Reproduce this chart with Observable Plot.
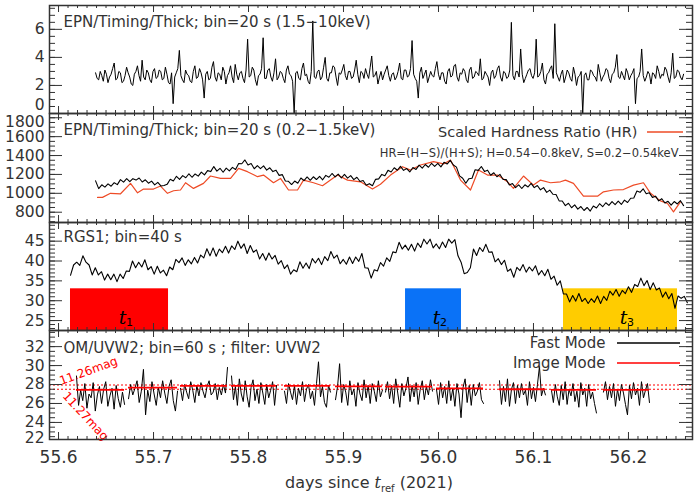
<!DOCTYPE html>
<html><head><meta charset="utf-8">
<script src="https://cdn.jsdelivr.net/npm/d3@7"></script>
<script src="https://cdn.jsdelivr.net/npm/@observablehq/plot@0.6"></script>
<style>
body{margin:0;background:#fff;}
#chart{position:relative;width:700px;height:500px;}
#chart > div{position:absolute;left:0;}
svg{overflow:visible;}
</style></head><body><div id="chart"></div>
<script>
// ---------------- DATA ----------------
// Panel 1: EPN/Timing/Thick 1.5-10 keV (regular bins between start and end)
const hardStart = 55.639, hardEnd = 56.258;
const hardRate = [
2.9,2.5,2.4,3.0,2.7,2.3,3.1,2.8,2.2,2.6,
2.8,3.2,3.6,2.4,2.5,3.0,2.9,2.2,2.3,2.7,
3.3,2.9,2.6,2.1,2.0,2.8,3.0,3.4,2.7,2.3,
3.8,2.6,2.4,3.1,2.9,2.4,2.2,3.0,3.2,2.5,
2.6,3.1,3.0,2.4,2.5,3.3,2.8,2.2,2.1,2.9,
0.7,2.6,2.9,3.2,4.5,2.7,2.4,2.2,3.1,2.8,
2.7,2.3,2.2,3.0,3.4,2.5,2.6,3.2,2.9,2.4,
1.1,2.8,3.0,2.4,2.5,3.3,3.7,2.6,2.3,2.9,
2.8,2.4,3.3,3.0,2.1,2.7,2.9,3.4,2.6,2.2,
3.5,2.8,2.4,2.9,3.0,2.5,2.2,3.1,5.3,2.6,
2.7,3.3,3.1,2.4,2.0,2.7,2.8,3.2,5.4,2.5,
2.5,3.1,3.2,2.6,2.3,2.9,3.9,2.4,2.6,3.0,
2.9,2.5,2.2,3.1,3.4,2.8,2.7,2.3,0.0,2.9,
3.0,2.5,2.4,3.2,3.6,2.7,2.8,2.3,2.1,3.0,
6.6,2.6,2.5,3.0,3.1,2.4,2.6,3.3,4.0,2.5,
2.3,2.9,2.9,3.4,3.3,2.6,2.0,2.9,2.8,3.1,
3.5,2.7,2.4,3.0,3.0,2.5,2.6,3.1,3.8,2.8,
2.2,3.0,2.9,2.5,3.2,2.8,2.5,3.3,4.1,2.6,
2.7,3.0,2.1,2.6,3.0,2.4,2.8,3.1,3.4,2.7,
2.3,2.8,2.9,2.4,2.6,3.0,3.6,2.5,2.4,3.1,
3.1,2.6,2.7,3.2,5.2,2.8,2.5,2.3,1.1,2.9,
3.3,2.5,2.8,3.1,2.2,2.6,3.0,2.7,2.6,3.2,
3.7,2.8,2.4,2.9,2.9,2.3,2.1,3.0,3.2,2.6,
2.7,3.4,3.5,2.6,2.3,2.9,2.8,3.2,3.0,2.4,
2.2,3.1,3.3,2.5,2.6,3.0,2.9,2.7,3.9,2.4,
2.5,3.0,2.8,2.6,2.0,2.9,3.1,2.5,2.7,3.2,
3.4,2.6,2.3,3.0,2.9,2.5,2.6,3.1,6.5,2.7,
2.4,3.0,3.0,2.6,4.6,2.8,2.2,2.5,2.8,3.1,
3.2,2.7,2.5,2.9,5.3,2.6,2.7,3.0,3.6,2.4,
2.1,2.8,2.9,3.2,3.4,2.5,6.4,2.9,2.6,2.3,
2.8,3.1,2.2,2.6,3.1,2.9,2.5,2.3,3.3,2.8,
2.0,2.6,2.7,3.0,0.0,2.7,2.9,2.4,2.4,3.1,
3.0,2.7,2.6,2.3,3.5,2.9,2.3,2.6,2.8,3.2,
3.1,2.5,2.2,2.8,2.9,3.3,4.2,2.6,2.5,3.0,
2.7,2.4,3.2,2.9,2.4,2.7,2.9,3.2,0.7,2.5,
2.6,3.0,4.6,2.7,2.3,2.6,3.0,2.8,2.1,2.9,
2.8,2.5,3.4,3.0,2.5,2.8,2.7,3.3,3.1,2.6,
2.2,2.9,4.3,2.5,2.6,3.1,3.0,2.6,2.4,2.8];

// Panel 2: EPN 0.2-1.5 keV (regular bins) + scaled hardness ratio
const softStart = 55.639, softEnd = 56.258;
const softRate = [
1132,1050,1090,1065,1100,1075,1112,1092,1145,1118,
1155,1123,1155,1140,1162,1120,1143,1107,1129,1090,
1116,1078,1082,1095,1148,1130,1180,1148,1187,1165,
1207,1170,1205,1182,1225,1195,1240,1230,1283,1235,
1265,1223,1267,1238,1275,1252,1315,1313,1353,1300,
1315,1260,1294,1262,1290,1246,1270,1230,1245,1190,
1198,1130,1127,1093,1130,1107,1162,1134,1173,1138,
1175,1146,1180,1143,1190,1170,1210,1174,1203,1162,
1200,1161,1187,1145,1170,1125,1135,1085,1102,1080,
1148,1153,1200,1185,1243,1226,1271,1244,1286,1243,
1262,1226,1273,1253,1298,1266,1305,1276,1318,1285,
1318,1280,1328,1310,1349,1300,1277,1185,1160,1107,
1155,1160,1250,1243,1284,1232,1245,1191,1218,1175,
1200,1147,1145,1088,1103,1060,1090,1051,1090,1067,
1105,1060,1083,1037,1060,1010,1034,990,987,920,
918,870,895,847,877,832,860,818,850,812,
865,845,890,858,900,872,913,881,918,882,
928,903,948,950,1025,1010,1048,995,1005,957,
970,920,943,897,915,874,913,887,922,870];
const hrTime = [55.6411,55.6463,55.6547,55.6653,55.6758,55.6832,55.6895,55.7000,55.7074,55.7147,
55.7211,55.7284,55.7337,55.7421,55.7526,55.7600,55.7705,55.7811,55.7895,55.7989,
55.8095,55.8158,55.8263,55.8337,55.8421,55.8516,55.8579,55.8684,55.8779,55.8863,
55.8937,55.9042,55.9179,55.9305,55.9389,55.9495,55.9621,55.9705,55.9811,55.9947,
56.0053,56.0126,56.0232,56.0337,56.0421,56.0516,56.0621,56.0726,56.0789,56.0895,
56.1000,56.1074,56.1179,56.1284,56.1337,56.1421,56.1526,56.1674,56.1737,56.1842,
56.1947,56.2053,56.2158,56.2232,56.2337,56.2411,56.2474,56.2547];
const hrScaled = [957,957,1000,995,1105,1005,1045,1045,1077,1000,
1027,1035,1112,1052,1105,1183,1158,1158,1264,1229,
1176,1193,1112,1158,1035,1035,1140,1112,1080,1140,
1193,1140,1122,1045,1096,1193,1282,1246,1300,1335,
1311,1353,1140,1035,1246,1193,1193,1122,1052,1183,
1087,1140,1112,1122,1140,1105,970,970,1016,1035,
1040,1087,1112,1000,920,892,803,910];

// Panel 3: RGS1, 40 s bins (regular bins)
const rgsStart = 55.6126, rgsEnd = 56.262;
const rgsRate = [
36.4,39.0,39.7,38.9,41.3,39.7,39.0,36.5,38.3,36.5,
37.3,35.2,36.7,35.3,36.7,34.8,36.7,35.6,37.5,37.4,
40.0,38.3,39.7,38.5,40.3,37.8,38.6,36.7,38.7,37.0,
37.7,36.3,38.5,37.8,40.4,39.6,40.8,38.9,40.3,39.3,
40.9,39.5,41.5,40.8,43.1,41.3,43.3,41.2,43.0,42.1,
43.7,42.0,43.8,42.9,45.0,43.2,44.3,41.9,43.9,42.2,
42.8,40.5,41.9,40.2,42.0,40.5,41.4,39.2,40.1,38.1,
39.0,36.7,37.8,37.3,39.8,38.2,39.5,38.1,40.6,39.5,
40.7,39.1,41.1,40.1,42.4,40.7,41.5,39.3,40.4,39.2,
41.0,39.4,41.0,39.9,41.9,38.3,38.2,35.7,37.8,37.5,
39.6,38.7,40.8,39.9,42.3,42.1,44.7,43.0,44.0,42.7,
44.2,42.5,44.5,43.4,45.5,44.3,45.5,43.3,44.3,43.1,
44.8,43.4,45.5,44.5,45.4,41.3,39.7,36.8,37.1,38.3,
43.0,41.4,43.4,42.4,44.2,42.2,42.3,39.8,40.6,39.1,
40.2,37.4,38.0,35.9,38.4,37.6,39.1,37.2,38.5,37.5,
38.8,36.5,37.6,36.3,37.9,35.4,36.2,33.9,35.0,31.7,
31.7,29.7,31.3,29.9,31.8,29.8,30.6,29.3,30.5,29.6,
31.2,29.3,31.1,30.1,32.4,31.4,32.8,31.1,32.6,31.8,
33.5,32.1,34.1,33.6,35.7,33.8,35.1,32.8,34.5,32.7,
33.2,30.9,32.2,30.5,31.8,28.1,31.2,30.6,31.1,29.5];
const periodName = ["1","2","3"];
const periodStart = [55.6126,55.9653,56.1316];
const periodEnd = [55.7158,56.0242,56.2516];
const periodTop = [33,33,33];

// Panel 4: OM/UVW2 fast mode (11 exposures, 24 values each) + image mode
const omSegStart = [55.6189,55.6737,55.7284,55.7821,55.8379,55.8916,55.9442,55.9979,56.0642,56.1189,56.1737];
const omSegEnd   = [55.6695,55.7253,55.7779,55.8295,55.8863,55.9410,55.9937,56.0474,56.1126,56.1663,56.2221];
const omPerSeg = 24;
const omRate = [
28.9,25.8,27.4,26.3,28.1,25.5,27.0,26.6,28.2,25.2,26.9,27.8,26.0,27.5,28.3,25.7,26.8,27.6,25.4,27.9,26.5,25.6,27.2,25.9,
26.5,28.0,26.9,27.6,28.4,26.1,27.3,29.6,24.8,27.4,26.2,28.3,27.0,25.8,27.7,26.6,28.4,27.1,26.0,27.8,28.5,26.3,25.2,27.3,
27.6,26.3,28.0,27.2,26.5,28.3,27.4,26.1,27.9,26.8,28.2,27.3,26.6,27.8,28.4,26.9,27.2,28.1,26.4,27.7,26.9,28.0,27.1,29.8,
28.9,26.4,27.8,25.8,28.6,27.0,26.2,28.4,26.7,25.6,27.7,28.5,26.3,27.5,26.0,28.2,27.1,25.9,28.0,26.6,27.4,28.3,25.8,27.9,
27.3,26.0,28.1,27.2,26.4,27.9,25.9,27.6,26.8,28.3,26.2,27.5,28.0,26.5,27.3,25.8,28.1,30.4,26.7,27.8,26.1,25.6,27.9,27.2,
26.4,27.8,30.2,26.1,28.0,27.2,25.8,28.4,26.9,27.5,25.7,28.2,27.0,26.3,28.5,26.6,27.9,26.0,28.1,27.3,26.2,28.4,26.7,27.4,
27.2,28.3,26.5,27.9,26.0,28.6,27.1,25.6,28.1,26.8,27.6,28.8,26.2,27.9,26.7,28.2,25.9,27.5,28.4,26.4,27.8,26.9,28.5,27.3,
27.5,25.9,28.2,26.6,27.8,26.0,28.4,26.3,27.6,25.7,28.1,27.0,24.5,27.7,28.6,26.1,27.9,25.8,28.0,26.8,27.3,28.2,26.4,26.0,
28.4,25.9,27.8,26.2,28.6,25.7,27.5,28.2,26.0,27.9,26.6,28.1,26.9,27.4,25.8,28.3,26.5,27.7,26.2,28.0,29.9,26.8,27.6,26.9,
27.4,26.1,28.0,26.7,25.8,27.9,26.4,28.3,25.9,27.5,26.8,28.1,26.2,27.3,25.6,28.2,26.9,27.6,25.7,28.0,26.5,27.2,26.0,25.0,
27.2,28.3,26.4,27.8,26.6,28.1,25.7,27.5,26.3,28.0,27.1,25.9,24.8,27.9,26.5,28.2,26.9,27.6,25.8,28.3,26.6,27.4,28.1,26.1];
const omImage = [27.43,27.68,27.86,27.86,27.86,27.80,27.78,27.60,27.50,27.43,27.43];
const omMagLevel = [27.95,27.5];
const omMagLabel = ["11.26mag","11.27mag"];

// tick values
const xMajor = [55.6,55.7,55.8,55.9,56.0,56.1,56.2];
const y1Labels = [0,2,4,6];
const y2Labels = [800,1000,1200,1400,1600,1800];
const y3Labels = [25,30,35,40,45];
const y4Labels = [22,24,26,28,30,32];

// ---------------- STYLE ----------------
const FONT = '"DejaVu Sans", sans-serif';
const INK = "#333";
const HR_COLOR = "#ee4b26";
const RED = "#ff0000";
const periodColor = ["#ff0000","#0a72f7","#ffcc00"];
const xDomain = [55.5905, 56.2674];
const ML = 49, MR = 8, W = 700, INNER_W = W - ML - MR;
const chart = document.getElementById("chart");

const regular = (t0, t1, vals) => vals.map((v, i) => ({t: t0 + (t1 - t0) * i / (vals.length - 1), v}));
const xMinor = d3.range(5560, 5627).map(v => v / 100);
const yAxisOpts = {anchor: "left", tickSize: 0, tickPadding: 5, fontSize: 15.5, fill: INK, label: null, tickFormat: d => String(d)};

function panel(o) {
  const mb = o.marginBottom || 0;
  const innerH = o.height - mb;
  const t = {stroke: INK, strokeWidth: 1, clip: true};
  const marks = [
    ...o.marks,
    Plot.tickY(o.yMinor, {y: d => d, insetRight: INNER_W - 6, ...t}),
    Plot.tickY(o.yMinor, {y: d => d, insetLeft: INNER_W - 6, ...t}),
    Plot.tickY(o.yMajor, {y: d => d, insetRight: INNER_W - 13, ...t}),
    Plot.tickY(o.yMajor, {y: d => d, insetLeft: INNER_W - 13, ...t}),
    Plot.tickX(xMinor, {x: d => d, insetTop: innerH - 3, ...t}),
    Plot.tickX(xMinor, {x: d => d, insetBottom: innerH - 3, ...t}),
    Plot.tickX(xMajor, {x: d => d, insetTop: innerH - 7, ...t}),
    Plot.tickX(xMajor, {x: d => d, insetBottom: innerH - 7, ...t}),
    Plot.axisY(o.yLabels, yAxisOpts),
    ...(o.edgeLabels || []).map(e => Plot.axisY([e.v], {...yAxisOpts, dy: e.dy})),
    Plot.text([o.title], {text: d => d, frameAnchor: "top-left", dx: 14, dy: o.titleDy, lineAnchor: "middle", textAnchor: "start", fontSize: 15, fill: INK}),
    ...(o.extra || []),
    Plot.frame({stroke: INK, strokeWidth: 1.5})
  ];
  const svg = Plot.plot({
    width: W, height: o.height, marginLeft: ML, marginRight: MR, marginTop: 0, marginBottom: mb,
    x: {domain: xDomain, axis: null},
    y: {domain: o.yDomain, axis: null},
    style: {fontFamily: FONT, overflow: "visible", background: "transparent"},
    marks
  });
  const div = document.createElement("div");
  div.style.top = o.top + "px";
  div.appendChild(svg);
  chart.appendChild(div);
  return svg;
}

// Panel 1
panel({
  top: 5, height: 108, yDomain: [0, 7.7],
  yMajor: y1Labels, yMinor: d3.range(0, 16).map(v => v / 2),
  yLabels: [2,4,6], edgeLabels: [{v: 0, dy: -8}],
  title: "EPN/Timing/Thick; bin=20 s (1.5\u221210keV)", titleDy: 17,
  marks: [Plot.line(regular(hardStart, hardEnd, hardRate), {x: "t", y: "v", stroke: "#000", strokeWidth: 1, clip: true})]
});

// Panel 2
const hr = hrTime.map((t, i) => ({t, v: hrScaled[i]}));
const svg2 = panel({
  top: 113, height: 109, yDomain: [691, 1845],
  yMajor: y2Labels, yMinor: d3.range(700, 1850, 50),
  yLabels: [800,1000,1200,1400,1600], edgeLabels: [{v: 1800, dy: 4}],
  title: "EPN/Timing/Thick; bin=20 s (0.2\u22121.5keV)", titleDy: 17,
  marks: [
    Plot.line(hr, {x: "t", y: "v", stroke: HR_COLOR, strokeWidth: 1.2, clip: true}),
    Plot.line(regular(softStart, softEnd, softRate), {x: "t", y: "v", stroke: "#000", strokeWidth: 1.1, clip: true})
  ],
  extra: [
    Plot.text(["Scaled Hardness Ratio (HR)"], {text: d => d, frameAnchor: "top-right", dx: -55, dy: 19, textAnchor: "end", lineAnchor: "middle", fontSize: 14.5, fill: INK}),
    Plot.text(["HR=(H\u2212S)/(H+S); H=0.54\u22120.8keV, S=0.2\u22120.54keV"], {text: d => d, frameAnchor: "top-right", dx: -14, dy: 40, textAnchor: "end", lineAnchor: "middle", fontSize: 11.5, fill: INK})
  ]
});
d3.select(svg2).append("line").attr("x1", 647).attr("x2", 683).attr("y1", 19).attr("y2", 19).attr("stroke", HR_COLOR).attr("stroke-width", 1.3);

// Panel 3
const periods = periodName.map((n, i) => ({name: n, start: periodStart[i], end: periodEnd[i], top: periodTop[i], color: periodColor[i]}));
const y3Domain = [22.5, 49.7];
panel({
  top: 222, height: 108, yDomain: y3Domain,
  yMajor: y3Labels, yMinor: d3.range(23, 50),
  yLabels: y3Labels,
  title: "RGS1; bin=40 s", titleDy: 15,
  marks: [
    Plot.rect(periods, {x1: "start", x2: "end", y1: y3Domain[0], y2: "top", fill: d => d.color, clip: true}),
    Plot.line(regular(rgsStart, rgsEnd, rgsRate), {x: "t", y: "v", stroke: "#000", strokeWidth: 1.1, clip: true}),
    Plot.text(periods, {x: d => (d.start + d.end) / 2, text: () => "t", frameAnchor: "bottom", dx: 3, dy: -13, lineAnchor: "middle", fontSize: 19, fontStyle: "italic", fontFamily: '"DejaVu Serif", serif', fill: "#000"}),
    Plot.text(periods, {x: d => (d.start + d.end) / 2, text: "name", frameAnchor: "bottom", dx: 10, dy: -8, lineAnchor: "middle", fontSize: 11, fill: "#000"})
  ]
});

// Panel 4
const omFast = [];
omSegStart.forEach((s, k) => {
  const e = omSegEnd[k];
  for (let j = 0; j < omPerSeg; j++) omFast.push({seg: k, t: s + (e - s) * j / (omPerSeg - 1), v: omRate[k * omPerSeg + j]});
});
const omImg = omSegStart.map((s, k) => ({s, e: omSegEnd[k], v: omImage[k]}));
const mags = omMagLevel.map((v, i) => ({v, label: omMagLabel[i]}));
const svg4 = panel({
  top: 330, height: 170, marginBottom: 61, yDomain: [22.2, 33.7],
  yMajor: y4Labels, yMinor: d3.range(45, 68).map(v => v / 2),
  yLabels: [24,26,28,30,32], edgeLabels: [{v: 22, dy: -3}],
  title: "OM/UVW2; bin=60 s ; filter: UVW2", titleDy: 18,
  marks: [
    Plot.ruleY(mags, {y: "v", stroke: RED, strokeWidth: 1.2, strokeDasharray: "2,2"}),
    Plot.line(omFast, {x: "t", y: "v", z: "seg", stroke: "#000", strokeWidth: 1, clip: true}),
    Plot.ruleY(omImg, {y: "v", x1: "s", x2: "e", stroke: RED, strokeWidth: 1.8}),
    Plot.text(mags.slice(0, 1), {y: "v", text: "label", frameAnchor: "left", textAnchor: "middle", dx: 39, dy: -14, rotate: -20, fontSize: 12, fill: RED}),
    Plot.text(mags.slice(1), {y: "v", text: "label", frameAnchor: "left", textAnchor: "middle", dx: 36, dy: 27, rotate: 47, fontSize: 12, fill: RED})
  ],
  extra: [
    Plot.axisX(xMajor, {anchor: "bottom", tickSize: 0, tickPadding: 11, fontSize: 17, fill: INK, tickFormat: d => d.toFixed(1), label: null}),
    Plot.text(["Fast Mode"], {text: d => d, frameAnchor: "top-right", dx: -87, dy: 13, textAnchor: "end", lineAnchor: "middle", fontSize: 15, fill: INK}),
    Plot.text(["Image Mode"], {text: d => d, frameAnchor: "top-right", dx: -87, dy: 33, textAnchor: "end", lineAnchor: "middle", fontSize: 15, fill: INK})
  ]
});
const s4 = d3.select(svg4);
s4.append("line").attr("x1", 617).attr("x2", 680).attr("y1", 13).attr("y2", 13).attr("stroke", "#000").attr("stroke-width", 1.5);
s4.append("line").attr("x1", 617).attr("x2", 680).attr("y1", 33).attr("y2", 33).attr("stroke", RED).attr("stroke-width", 1.5);
const xl = s4.append("text").attr("x", 369).attr("y", 158).attr("text-anchor", "middle")
  .attr("font-family", FONT).attr("font-size", 16).attr("fill", INK);
xl.append("tspan").text("days since ");
xl.append("tspan").attr("font-style", "italic").attr("font-family", '"DejaVu Serif", serif').text("t");
xl.append("tspan").attr("font-size", 10).attr("dy", 4).text("ref");
xl.append("tspan").attr("dy", -4).text(" (2021)");
</script></body></html>
